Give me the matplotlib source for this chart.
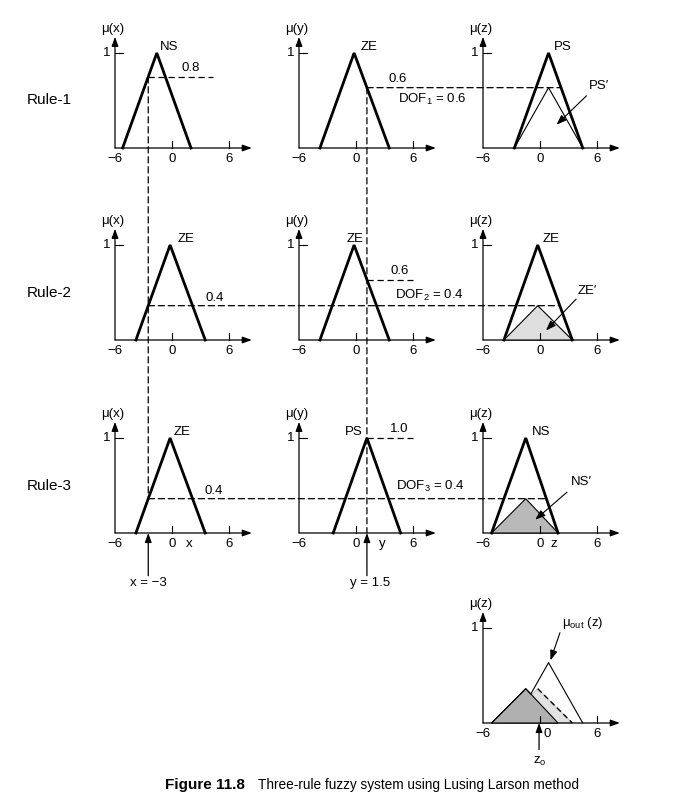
import numpy as np
import matplotlib
matplotlib.use('Agg')
import matplotlib.pyplot as plt
from matplotlib.patches import ConnectionPatch, Polygon

plt.rcParams['font.family'] = ['Liberation Sans', 'DejaVu Sans']
plt.rcParams['mathtext.fontset'] = 'custom'
plt.rcParams['mathtext.rm'] = 'Liberation Sans'
plt.rcParams['mathtext.it'] = 'Liberation Sans'
plt.rcParams['mathtext.default'] = 'regular'

# ---------------- data ----------------
tick_values = [-6, 0, 6]
tick_texts = ['\u22126', '0', '6']
# triangular membership functions (left foot, peak, right foot)
NS_x = [-5.2, -1.6, 2.0]
ZE_x = [-3.8, -0.2, 3.5]
ZE_y = [-3.8, -0.2, 3.5]
PS_y = [-2.4, 1.15, 4.7]
PS_z = [-2.7, 0.9, 4.5]
ZE_z = [-3.8, -0.24, 3.4]
NS_z = [-5.1, -1.5, 1.9]
x_in = -2.5
y_in = 1.15
x_in_text = 'x = \u22123'
y_in_text = 'y = 1.5'
rule_names = ['Rule-1', 'Rule-2', 'Rule-3']
x_deg_texts = ['0.8', '0.4', '0.4']
y_deg_texts = ['0.6', '0.6', '1.0']
dof_texts = ['DOF$_1$ = 0.6', 'DOF$_2$ = 0.4', 'DOF$_3$ = 0.4']
x_sets = [NS_x, ZE_x, ZE_x]
y_sets = [ZE_y, ZE_y, PS_y]
z_sets = [PS_z, ZE_z, NS_z]
x_names = ['NS', 'ZE', 'ZE']
y_names = ['ZE', 'ZE', 'PS']
z_names = ['PS', 'ZE', 'NS']
z_o = -0.1


def mu(tri, v):
    a, b, c = tri
    if v <= a or v >= c:
        return 0.0
    if v <= b:
        return (v - a) / (b - a)
    return (c - v) / (c - b)


def right_at(tri, level):
    a, b, c = tri
    return c - level * (c - b)


# ---------------- layout ----------------
W, H = 698, 801
fig = plt.figure(figsize=(W / 100, H / 100), dpi=100)
col_x0 = [172, 356, 540]
row_y0 = [148, 340, 533, 723]
ux, uy = 9.5, 95
XL = (-7, 9)
YL = (-0.4, 1.4)
FS = 9.5
K = 'black'
DASH = (0, (5, 3))


def make_ax(r, c):
    left = col_x0[c] + XL[0] * ux
    top = row_y0[r] - YL[1] * uy
    w = (XL[1] - XL[0]) * ux
    h = (YL[1] - YL[0]) * uy
    ax = fig.add_axes([left / W, 1 - (top + h) / H, w / W, h / H])
    ax.set_xlim(*XL)
    ax.set_ylim(*YL)
    ax.set_axis_off()
    return ax


arrow_axis = dict(arrowstyle='-|>,head_length=0.55,head_width=0.2', color=K,
                  lw=0.9, shrinkA=0, shrinkB=0)
arrow_thin = dict(arrowstyle='-|>,head_length=0.6,head_width=0.22', color=K,
                  lw=0.8, shrinkA=0, shrinkB=0)


def draw_frame(ax, var, labels):
    ax.annotate('', xy=(-6, 1.17), xytext=(-6, 0), arrowprops=arrow_axis,
                annotation_clip=False)
    ax.annotate('', xy=(8.4, 0), xytext=(-6, 0), arrowprops=arrow_axis,
                annotation_clip=False)
    ax.plot([-6, -5.2], [1, 1], lw=0.8, color=K, zorder=5)
    for t in tick_values[1:]:
        ax.plot([t, t], [0, 0.07], lw=0.8, color=K, zorder=5)
    ax.text(-6.5, 1.0, '1', ha='right', va='center', fontsize=FS)
    ax.text(-6.2, 1.25, '\u03bc(%s)' % var, ha='center', va='center', fontsize=FS)
    for (t, s) in labels:
        ax.text(t, -0.12, s, ha='center', va='center', fontsize=FS)


def draw_tri(ax, tri, lw=2.0, level=1.0, **kw):
    a, b, c = tri
    ax.plot([a, b, c], [0, level, 0], color=K, lw=lw,
            solid_joinstyle='miter', zorder=4, **kw)


axes = [[make_ax(r, c) for c in range(3)] for r in range(3)]
ax_out = make_ax(3, 2)

base_labels = list(zip(tick_values, tick_texts))
for r in range(3):
    extra = [[], [], []]
    if r == 2:
        extra = [[(1.8, 'x')], [(2.8, 'y')], [(1.5, 'z')]]
    for c, var in enumerate('xyz'):
        draw_frame(axes[r][c], var, base_labels + extra[c])
draw_frame(ax_out, 'z', [(-6, '\u22126'), (0.8, '0'), (6, '6')])

# label positions (left edge / alignment) for set names
name_pos = [[(-1.26, 'left'), (0.45, 'left'), (1.46, 'left')],
            [(0.55, 'left'), (-0.1, 'center'), (0.3, 'left')],
            [(0.2, 'left'), (0.7, 'right'), (-0.83, 'left')]]

dofs = []
for r in range(3):
    ax_x, ax_y, ax_z = axes[r]
    draw_tri(ax_x, x_sets[r])
    draw_tri(ax_y, y_sets[r])
    draw_tri(ax_z, z_sets[r])
    for c, nm in enumerate([x_names[r], y_names[r], z_names[r]]):
        px, ha = name_pos[r][c]
        axes[r][c].text(px, 1.06, nm, ha=ha, va='center', fontsize=FS)
    dx = mu(x_sets[r], x_in)
    dy = mu(y_sets[r], y_in)
    dof = min(dx, dy)
    dofs.append(dof)
    # Rule label
    ax_x.text(-15.3, 0.5, rule_names[r], ha='left', va='center', fontsize=11)

    # scaled consequent
    a, b, c = z_sets[r]
    if r == 0:
        draw_tri(ax_z, z_sets[r], lw=0.8, level=dof)
    else:
        fc = '#dedede' if r == 1 else '#b9b9b9'
        ax_z.add_patch(Polygon([[a, 0], [b, dof], [c, 0]], closed=True,
                               facecolor=fc, edgecolor=K, lw=0.8, zorder=3))

# ---- dashed guide lines ----
def conn(axA, pA, axB, pB):
    cp = ConnectionPatch(xyA=pA, coordsA='data', axesA=axA,
                         xyB=pB, coordsB='data', axesB=axB,
                         color=K, lw=0.9, linestyle=DASH, zorder=6)
    fig.add_artist(cp)

# row 1
d1x = mu(x_sets[0], x_in)
d1y = mu(y_sets[0], y_in)
axes[0][0].plot([x_in, 4.3], [d1x, d1x], color=K, lw=0.9, ls=DASH)
conn(axes[0][1], (y_in, d1y), axes[0][2], (right_at(z_sets[0], dofs[0]), dofs[0]))
# row 2
d2x = mu(x_sets[1], x_in)
d2y = mu(y_sets[1], y_in)
conn(axes[1][0], (x_in, d2x), axes[1][2], (right_at(z_sets[1], dofs[1]), dofs[1]))
axes[1][1].plot([y_in, 6.0], [d2y, d2y], color=K, lw=0.9, ls=DASH)
# row 3
d3x = mu(x_sets[2], x_in)
d3y = mu(y_sets[2], y_in)
conn(axes[2][0], (x_in, d3x), axes[2][2], (right_at(z_sets[2], dofs[2]), dofs[2]))
axes[2][1].plot([y_in, 6.0], [d3y, d3y], color=K, lw=0.9, ls=DASH)
# verticals
conn(axes[0][0], (x_in, d1x), axes[2][0], (x_in, d3x))
conn(axes[0][1], (y_in, d1y), axes[2][1], (y_in, 0))

# degree texts
axes[0][0].text(2.0, d1x + 0.03, x_deg_texts[0], ha='center', va='bottom', fontsize=FS)
axes[1][0].text(4.45, d2x + 0.02, x_deg_texts[1], ha='center', va='bottom', fontsize=FS)
axes[2][0].text(4.4, d3x + 0.02, x_deg_texts[2], ha='center', va='bottom', fontsize=FS)
axes[0][1].text(4.35, d1y + 0.03, y_deg_texts[0], ha='center', va='bottom', fontsize=FS)
axes[1][1].text(4.55, d2y + 0.03, y_deg_texts[1], ha='center', va='bottom', fontsize=FS)
axes[2][1].text(4.6, d3y + 0.03, y_deg_texts[2], ha='center', va='bottom', fontsize=FS)
axes[0][1].text(4.45, 0.51, dof_texts[0], ha='left', va='center', fontsize=FS)
axes[1][1].text(4.1, 0.47, dof_texts[1], ha='left', va='center', fontsize=FS)
axes[2][1].text(4.25, 0.49, dof_texts[2], ha='left', va='center', fontsize=FS)

# primed labels with arrows
prime = [((5.1, 0.65), (4.9, 0.55), (1.74, 0.245), 'PS\u2032'),
         ((4.0, 0.52), (3.8, 0.43), (0.63, 0.10), 'ZE\u2032'),
         ((3.2, 0.54), (2.84, 0.43), (-0.5, 0.14), 'NS\u2032')]
for r, (tp, p0, p1, s) in enumerate(prime):
    ax = axes[r][2]
    ax.text(tp[0], tp[1], s, ha='left', va='center', fontsize=FS)
    ax.annotate('', xy=p1, xytext=p0, arrowprops=arrow_thin, annotation_clip=False)

# input arrows
axes[2][0].annotate('', xy=(x_in, 0), xytext=(x_in, -0.45), arrowprops=arrow_axis,
                    annotation_clip=False)
axes[2][0].text(x_in, -0.53, x_in_text, ha='center', va='center', fontsize=FS)
axes[2][1].annotate('', xy=(y_in, 0), xytext=(y_in, -0.45), arrowprops=arrow_axis,
                    annotation_clip=False)
axes[2][1].text(y_in + 0.35, -0.53, y_in_text, ha='center', va='center', fontsize=FS)

# ---- aggregated output ----
zz = np.linspace(-6, 6, 2401)
scaled = [np.array([mu(z_sets[r], v) * dofs[r] for v in zz]) for r in range(3)]
a, b, c = ZE_z
ax_out.add_patch(Polygon([[a, 0], [b, dofs[1]], [c, 0]], closed=True,
                         facecolor='#e2e2e2', edgecolor='#bbbbbb', lw=0.6, zorder=2))
ax_out.plot([b, c], [dofs[1], 0], color=K, lw=1.0, ls=(0, (4, 2.5)), zorder=3)
a, b, c = NS_z
ax_out.add_patch(Polygon([[a, 0], [b, dofs[2]], [c, 0]], closed=True,
                         facecolor='#b0b0b0', edgecolor=K, lw=0.8, zorder=3))
env = np.maximum(np.maximum(scaled[0], scaled[1]), scaled[2])
mask = env > 0
ax_out.plot(zz[mask], env[mask], color=K, lw=0.8, zorder=4)
ax_out.text(2.3, 1.05, '\u03bc$_{out}$ (z)', ha='left', va='center', fontsize=FS)
ax_out.annotate('', xy=(1.1, 0.66), xytext=(2.1, 0.95), arrowprops=arrow_thin,
                annotation_clip=False)
ax_out.annotate('', xy=(z_o, 0), xytext=(z_o, -0.28), arrowprops=arrow_axis,
                annotation_clip=False)
ax_out.text(z_o + 0.1, -0.4, 'z$_o$', ha='center', va='center', fontsize=FS)

# caption
fig.text(165 / W, 1 - 785 / H, 'Figure 11.8', ha='left', va='center',
         fontsize=11, fontweight='bold')
fig.text(258 / W, 1 - 785 / H, 'Three-rule fuzzy system using Lusing Larson method',
         ha='left', va='center', fontsize=9.8)

fig.savefig('out.png', dpi=100)
